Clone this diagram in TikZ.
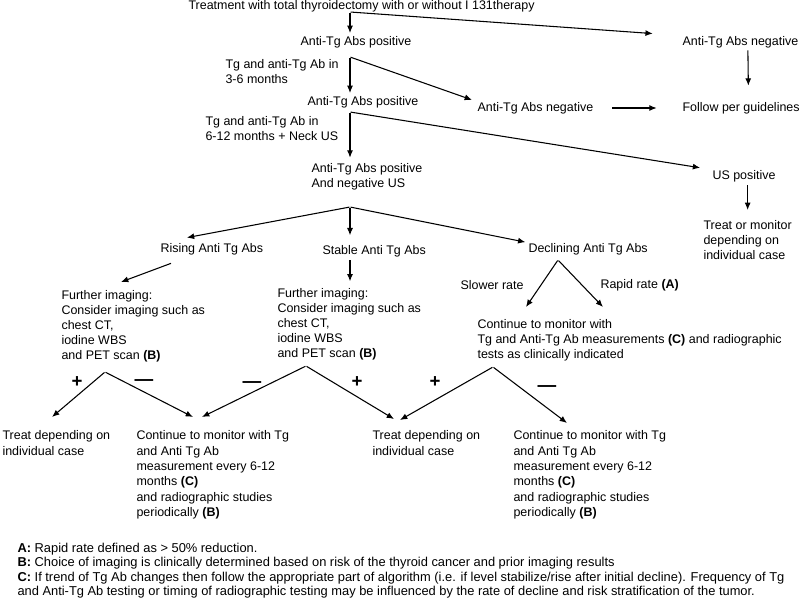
\documentclass[tikz,border=0pt]{standalone}
\usepackage{fontspec}
\setmainfont{Liberation Sans}
\usetikzlibrary{arrows.meta,calc}
\newcommand{\drawtext}{\node[anchor=west,inner sep=0]}
\newcommand{\drawblock}{\node[anchor=north west,align=left,inner sep=0]}
\newcommand{\drawblocktall}{\node[anchor=north west,align=left,inner sep=0,font=\fontsize{9.35}{11.6}\selectfont]}
\newcommand{\drawnote}{\node[anchor=north west,align=left,inner sep=0,font=\fontsize{9.65}{10.6}\selectfont]}
\newcommand{\drawsign}{\node[inner sep=0,font=\fontsize{14}{14}\selectfont\bfseries]}
\newcommand{\drawdummy}{\node[minimum size=0,inner sep=0]}

\begin{document}
\begin{tikzpicture}[x=0.75pt, y=-0.75pt, line width=0.8pt, >={Latex[length=5.5pt,width=4.5pt]}, every node/.style={font=\fontsize{9.35}{11.3}\selectfont}]
%anti-Tg follow-up algorithm
\useasboundingbox (0,0) rectangle (800,600);

\drawtext (title) at (188,6) {Treatment with total thyroidectomy with or without I 131therapy};
\drawtext (pos1) at (300,42) {Anti-Tg Abs positive};
\drawtext (neg1) at (682,42) {Anti-Tg Abs negative};
\drawblock (tg36) at (225,59) {Tg and anti-Tg Ab in\\3-6 months};
\drawtext (pos2) at (307,102) {Anti-Tg Abs positive};
\drawtext (neg2) at (477,108) {Anti-Tg Abs negative};
\drawtext (follow) at (682,108) {Follow per guidelines};
\drawblock (tg612) at (205,116) {Tg and anti-Tg Ab in\\6-12 months + Neck US};
\drawblock (pos3) at (311,163) {Anti-Tg Abs positive\\And negative US};
\drawtext (usp) at (712,176) {US positive};
\drawblock (treatmon) at (703,220) {Treat or monitor\\depending on\\individual case};
\drawtext (rising) at (160,249) {Rising Anti Tg Abs};
\drawtext (stable) at (322,251) {Stable Anti Tg Abs};
\drawtext (declining) at (528,249) {Declining Anti Tg Abs};
\drawtext (slower) at (460,285) {Slower rate};
\drawtext (rapid) at (600,285) {Rapid rate \textbf{(A)}};
\drawblock (further1) at (61,290) {Further imaging:\\Consider imaging such as\\chest CT,\\iodine WBS\\and PET scan \textbf{(B)}};
\drawblock (further2) at (277,288) {Further imaging:\\Consider imaging such as\\chest CT,\\iodine WBS\\and PET scan \textbf{(B)}};
\drawblock (contmon) at (477,319) {Continue to monitor with\\Tg and Anti-Tg Ab measurements \textbf{(C)} and radiographic\\tests as clinically indicated};
\drawblocktall (treat1) at (2,430) {Treat depending on\\individual case};
\drawblocktall (cont1) at (136,430) {Continue to monitor with Tg\\and Anti Tg Ab\\measurement every 6-12\\months \textbf{(C)}\\and radiographic studies\\periodically \textbf{(B)}};
\drawblocktall (treat2) at (372,430) {Treat depending on\\individual case};
\drawblocktall (cont2) at (513,430) {Continue to monitor with Tg\\and Anti Tg Ab\\measurement every 6-12\\months \textbf{(C)}\\and radiographic studies\\periodically \textbf{(B)}};
\drawnote (notes) at (17,543) {\textbf{A:} Rapid rate defined as > 50\% reduction.\\
\textbf{B:} Choice of imaging is clinically determined based on risk of the thyroid cancer and prior imaging results\\
\textbf{C:} If trend of Tg Ab changes then follow the appropriate part of algorithm (i.e. if level stabilize/rise after initial decline). Frequency of Tg\\
and Anti-Tg Ab testing or timing of radiographic testing may be influenced by the rate of decline and risk stratification of the tumor.};

\drawdummy (s0) at (350,12) {};
\drawdummy (s1) at (350,57) {};
\drawdummy (s2) at (350,112) {};
\drawdummy (s3) at (350,207) {};
\drawdummy (s4) at (558,260) {};
\drawdummy (s5) at (105,372) {};
\drawdummy (s6) at (306,366) {};
\drawdummy (s7) at (493,367) {};

\drawsign (plus1) at (77,382) {+};
\drawsign (minus1) at (144,383) {—};
\drawsign (minus2) at (252,385) {—};
\drawsign (plus2) at (357,382) {+};
\drawsign (plus3) at (435,382) {+};
\drawsign (minus3) at (547,389) {—};

\draw[->,shorten >=2pt] (s0) -- (s0 |- pos1.north);
\draw[->,shorten >=22pt] (s0) -- (neg1.north west);
\draw[->,shorten <=1.5pt,shorten >=12pt] ([xshift=5.6pt]neg1.south) -- ([xshift=5.6pt]follow.north);
\draw[->,shorten >=2pt] (s1) -- (s1 |- pos2.north);
\draw[->,shorten >=4pt] (s1) -- (neg2.north west);
\draw[->,shorten <=14pt,shorten >=19pt] (neg2.east) -- (follow.west);
\draw[->,shorten >=4pt] (s2) -- (s2 |- pos3.north);
\draw[->,shorten >=9pt] (s2) -- (usp.north west);
\draw[->,shorten <=2pt,shorten >=7.5pt] (treatmon.north |- usp.south) -- (treatmon.north);
\draw[->,shorten >=20.5pt] (s3) -- (rising.north west);
\draw[->,shorten >=7pt] (s3) -- (s3 |- stable.north);
\draw[->,shorten >=2pt] (s3) -- (declining.north west);
\draw[->] ($(rising.south west)+(11,8)$) -- ($(further1.north west)+(60,-8)$);
\draw[->,shorten <=2pt,shorten >=5pt] (stable.south -| s3) -- (s3 |- further2.north);
\draw[->] (s4) -- ($(contmon.north west)+(49,-12)$);
\draw[->] (s4) -- ($(contmon.north west)+(126,-12)$);
\draw[->] (s5) -- ($(treat1.north west)+(50,-13)$);
\draw[->] (s5) -- ($(cont1.north west)+(57,-13)$);
\draw[->] (s6) -- ($(cont1.north west)+(66,-13)$);
\draw[->] (s6) -- ($(treat2.north west)+(22,-11)$);
\draw[->] (s7) -- ($(treat2.north west)+(28,-10)$);
\draw[->] (s7) -- ($(cont2.north west)+(54,-7)$);
\end{tikzpicture}
\end{document}
